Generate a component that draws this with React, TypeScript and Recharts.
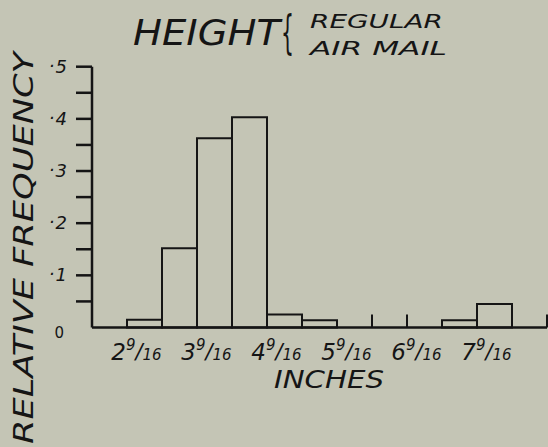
import React from 'react';
import { BarChart, Bar, XAxis, YAxis } from 'recharts';

// Half-inch bins, identified by their centre (inches)
const binCenters = [
  '2 1/16', '2 9/16', '3 1/16', '3 9/16', '4 1/16', '4 9/16', '5 1/16',
  '5 9/16', '6 1/16', '6 9/16', '7 1/16', '7 9/16', '8 1/16',
];
const relativeFrequency = [
  0, 0.015, 0.152, 0.363, 0.403, 0.025, 0.014, 0, 0, 0, 0.014, 0.045, 0,
];
const xTickLabels = ['2 9/16', '3 9/16', '4 9/16', '5 9/16', '6 9/16', '7 9/16'];

const yTicks = [0, 0.05, 0.1, 0.15, 0.2, 0.25, 0.3, 0.35, 0.4, 0.45, 0.5];
const yLabelValues = [0, 0.1, 0.2, 0.3, 0.4, 0.5];
const yLabelTexts = ['0', '.1', '.2', '.3', '.4', '.5'];

const titleMain = 'HEIGHT';
const titleBrace = '{';
const titleLines = ['REGULAR', 'AIR MAIL'];
const yAxisTitle = 'RELATIVE FREQUENCY';
const xAxisTitle = 'INCHES';

const data = binCenters.map((bin, i) => ({ bin, freq: relativeFrequency[i] }));

const INK = '#151515';
const PAPER = '#c4c5b5';
const FONT = '"DejaVu Sans", sans-serif';
const Y_AXIS_WIDTH = 92;
const Y_TICK_SIZE = 16;
const Y_TICK_MARGIN = 9;
const X_EDGE_TICK = 13;

function XTick(props: any) {
  const x = Number(props.x);
  const y = Number(props.y);
  const payload = props.payload || {};
  const v = String(payload.value);
  const i = binCenters.indexOf(v);
  const half =
    typeof payload.offset === 'number' && payload.offset > 0
      ? payload.offset
      : Number(props.width) / binCenters.length / 2;
  // upright tick at the right edge of an empty bin whose neighbour is empty too
  const edgeTick =
    i > 0 &&
    relativeFrequency[i] === 0 &&
    (i === binCenters.length - 1 || relativeFrequency[i + 1] === 0);
  let label = null;
  if (xTickLabels.includes(v)) {
    const [whole, frac] = v.split(' ');
    const [num, den] = frac.split('/');
    label = (
      <text
        x={x - 8}
        y={y + 32}
        textAnchor="middle"
        fontFamily={FONT}
        fontStyle="italic"
        fill={INK}
      >
        <tspan fontSize={23}>{whole}</tspan>
        <tspan fontSize={15} dy={-10}>{num}</tspan>
        <tspan fontSize={21} dy={9}>/</tspan>
        <tspan fontSize={15} dy={1}>{den}</tspan>
      </text>
    );
  }
  return (
    <g>
      {edgeTick && (
        <line
          x1={x + half}
          x2={x + half}
          y1={y}
          y2={y - X_EDGE_TICK}
          stroke={INK}
          strokeWidth={2}
        />
      )}
      {label}
    </g>
  );
}

function YTick(props: any) {
  const x = Number(props.x);
  const y = Number(props.y);
  const v = Number(props.payload?.value);
  const idx = yLabelValues.findIndex((t) => Math.abs(t - v) < 1e-9);
  const label = idx >= 0 ? yLabelTexts[idx] : null;
  const lineStart = x + Y_TICK_MARGIN;
  return (
    <g>
      {v > 0 && (
        <rect
          x={lineStart}
          y={y - 1.25}
          width={Y_TICK_SIZE}
          height={2.5}
          fill={INK}
        />
      )}
      {label !== null && label.startsWith('.') && (
        <text
          x={x}
          y={y + 6}
          textAnchor="end"
          fontFamily={FONT}
          fontStyle="italic"
          fontSize={18}
          fill={INK}
        >
          <tspan dy={-6}>.</tspan>
          <tspan dy={6}>{label.slice(1)}</tspan>
        </text>
      )}
      {label !== null && !label.startsWith('.') && (
        <text
          x={x - 3}
          y={y + 10}
          textAnchor="end"
          fontFamily={FONT}
          fontSize={15}
          fill={INK}
        >
          {label}
        </text>
      )}
    </g>
  );
}

function XLabel(props: any) {
  const vb = props.viewBox || { x: 0, y: 0, width: 0, height: 0 };
  const cx = Number(vb.x) + Number(vb.width) / 2 + 9.5;
  const cy = Number(vb.y) + 60;
  return (
    <text
      x={cx}
      y={cy}
      textAnchor="middle"
      fontFamily={FONT}
      fontStyle="italic"
      fontSize={25}
      textLength={110}
      lengthAdjust="spacingAndGlyphs"
      fill={INK}
    >
      {xAxisTitle}
    </text>
  );
}

export default function App() {
  return (
    <div
      style={{
        position: 'fixed',
        left: 0,
        top: 0,
        width: 548,
        height: 447,
        background: PAPER,
        overflow: 'hidden',
      }}
    >
      <BarChart
        width={548}
        height={447}
        data={data}
        margin={{ top: 66.7, right: 1, bottom: 118.5, left: 0 }}
        barCategoryGap={0}
        barGap={0}
      >
        <XAxis
          dataKey="bin"
          type="category"
          height={1}
          interval={0}
          tickLine={false}
          tickSize={0}
          tickMargin={0}
          axisLine={{ stroke: INK, strokeWidth: 2.5 }}
          tick={<XTick />}
          label={XLabel}
        />
        <YAxis
          width={Y_AXIS_WIDTH}
          domain={[0, 0.5]}
          ticks={yTicks}
          interval={0}
          tickSize={Y_TICK_SIZE}
          tickMargin={Y_TICK_MARGIN}
          tickLine={false}
          axisLine={{ stroke: INK, strokeWidth: 2.5 }}
          tick={<YTick />}
        />
        <Bar
          dataKey="freq"
          fill="none"
          stroke={INK}
          strokeWidth={2}
          isAnimationActive={false}
        />
      </BarChart>
      <svg
        width={548}
        height={447}
        style={{ position: 'absolute', left: 0, top: 0, pointerEvents: 'none' }}
      >
        <text
          x={133}
          y={45}
          fontFamily={FONT}
          fontStyle="italic"
          fontSize={35}
          textLength={147}
          lengthAdjust="spacingAndGlyphs"
          fill={INK}
        >
          {titleMain}
        </text>
        <text
          x={281}
          y={48}
          fontFamily={FONT}
          fontSize={46}
          textLength={13}
          lengthAdjust="spacingAndGlyphs"
          fill={INK}
        >
          {titleBrace}
        </text>
        <text
          x={310}
          y={28}
          fontFamily={FONT}
          fontStyle="italic"
          fontSize={20}
          textLength={133}
          lengthAdjust="spacingAndGlyphs"
          fill={INK}
        >
          {titleLines[0]}
        </text>
        <text
          x={310}
          y={55}
          fontFamily={FONT}
          fontStyle="italic"
          fontSize={20}
          textLength={137}
          lengthAdjust="spacingAndGlyphs"
          fill={INK}
        >
          {titleLines[1]}
        </text>
        <text
          x={33}
          y={248}
          transform="rotate(-90 33 248)"
          textAnchor="middle"
          fontFamily={FONT}
          fontStyle="italic"
          fontSize={27}
          textLength={392}
          lengthAdjust="spacingAndGlyphs"
          fill={INK}
        >
          {yAxisTitle}
        </text>
      </svg>
    </div>
  );
}
